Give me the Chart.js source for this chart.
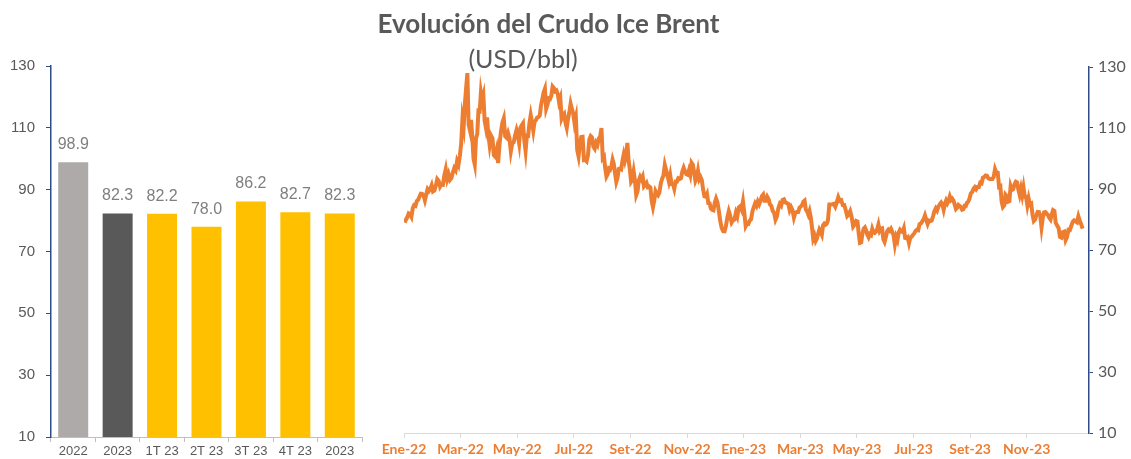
<!DOCTYPE html>
<html lang="es">
<head>
<meta charset="utf-8">
<title>Evolución del Crudo Ice Brent</title>
<script src="https://cdn.jsdelivr.net/npm/chart.js@4.4.1/dist/chart.umd.min.js"></script>
<style>
  body { margin: 0; background: #fff; }
  .wrap { position: relative; width: 1131px; height: 459px; overflow: hidden; background: #fff; }
  .title { position: absolute; left: 0; width: 1097px; top: 8px; text-align: center; font: bold 26px Lato, sans-serif; color: #595959; line-height: 30px; }
  .subtitle { position: absolute; left: 0; width: 1046px; top: 44px; text-align: center; font: 25px Lato, sans-serif; color: #595959; line-height: 28px; }
  #barChart { position: absolute; left: 0; top: 0; }
  #brentChart { position: absolute; left: 370px; top: 0; }
</style>
</head>
<body>
<div class="wrap">
  <canvas id="barChart" width="370" height="459"></canvas>
  <canvas id="brentChart" width="761" height="459"></canvas>
  <div class="title">Evolución del Crudo Ice Brent</div>
  <div class="subtitle">(USD/bbl)</div>
</div>
<script>
// promedios anuales y trimestrales
const barLabels = ['2022', '2023', '1T 23', '2T 23', '3T 23', '4T 23', '2023'];
const barValues = [98.9, 82.3, 82.2, 78.0, 86.2, 82.7, 82.3];
const barColors = ['#AEAAAA', '#595959', '#FFC000', '#FFC000', '#FFC000', '#FFC000', '#FFC000'];

const xTickLabels = ['Ene-22', 'Mar-22', 'May-22', 'Jul-22', 'Set-22', 'Nov-22',
                     'Ene-23', 'Mar-23', 'May-23', 'Jul-23', 'Set-23', 'Nov-23'];

//! Brent diario, un array por mes
const brent2022 = [
  [78.98, 80.00, 80.80, 81.99, 81.75, 80.87, 83.72, 84.67, 84.47, 86.06, 86.48, 87.51, 88.44, 88.38, 87.89, 86.27, 88.20, 89.96, 89.34, 90.03, 91.21],
  [89.16, 89.47, 91.11, 93.27, 92.69, 90.78, 91.55, 91.41, 94.44, 96.48, 93.28, 94.81, 92.97, 93.54, 95.39, 96.84, 96.12, 99.08, 97.93, 100.99],
  [104.97, 112.93, 110.46, 118.11, 123.21, 127.98, 111.14, 109.33, 112.67, 106.90, 99.91, 98.02, 106.64, 107.93, 115.62, 115.48, 121.60, 119.03, 120.65, 112.48, 110.23, 113.45, 107.91],
  [104.39, 107.53, 106.64, 101.07, 100.58, 102.78, 98.48, 104.64, 108.78, 111.70, 113.16, 107.25, 106.80, 108.33, 106.65, 102.32, 104.99, 105.32, 107.59, 109.34],
  [107.58, 104.97, 110.14, 110.90, 111.55, 105.94, 102.46, 107.51, 107.45, 111.55, 114.24, 111.93, 109.11, 112.04, 112.55, 113.42, 113.56, 114.03, 117.40, 119.43, 121.67, 122.84],
  [116.29, 117.61, 119.72, 119.51, 120.57, 123.58, 123.07, 122.01, 122.27, 121.17, 118.51, 119.81, 113.12, 114.13, 114.65, 111.74, 110.05, 113.12, 115.09, 117.98, 116.26, 114.81],
  [111.63, 113.50, 102.77, 100.69, 104.65, 107.02, 107.10, 99.49, 99.57, 99.10, 101.16, 106.27, 107.35, 106.92, 103.86, 103.20, 105.15, 104.40, 106.62, 107.14, 110.01],
  [100.03, 100.54, 96.78, 94.12, 94.92, 96.65, 96.31, 97.40, 99.60, 98.15, 95.10, 92.34, 93.65, 96.59, 96.72, 96.48, 99.22, 101.22, 99.34, 100.99, 105.09, 99.31, 96.49],
  [92.36, 93.02, 95.74, 92.83, 88.00, 89.15, 92.84, 94.00, 93.17, 94.10, 90.84, 91.35, 92.00, 90.62, 90.83, 90.46, 86.15, 84.06, 86.27, 89.32, 88.49, 87.96],
  [88.86, 91.80, 93.37, 94.42, 97.92, 96.19, 94.29, 92.45, 94.57, 91.63, 91.62, 90.03, 92.41, 92.38, 93.50, 93.26, 93.52, 95.69, 96.96, 95.77, 94.83],
  [94.65, 96.16, 94.67, 98.57, 97.92, 95.36, 92.65, 93.67, 95.99, 93.14, 93.86, 92.86, 89.78, 87.62, 87.45, 88.36, 85.41, 85.34, 83.63, 83.19, 83.03, 85.43],
  [86.88, 85.57, 82.68, 79.35, 77.17, 76.15, 76.10, 77.99, 80.68, 82.70, 81.21, 79.04, 79.80, 79.99, 82.20, 80.98, 83.92, 84.33, 83.26, 85.91]
];
const brent2023 = [
  [82.10, 77.84, 78.69, 78.57, 79.65, 80.10, 82.67, 84.03, 85.28, 84.46, 85.92, 84.98, 86.16, 87.63, 88.19, 86.13, 86.12, 87.47, 86.66, 84.90, 84.49],
  [82.84, 82.17, 79.94, 80.99, 83.69, 85.09, 84.50, 86.39, 86.61, 85.58, 85.38, 85.14, 83.00, 84.07, 83.05, 80.60, 82.21, 82.45, 82.45, 83.89],
  [84.31, 84.75, 85.83, 86.18, 83.29, 82.66, 81.59, 82.78, 80.77, 77.45, 73.69, 74.70, 72.97, 73.79, 75.32, 76.69, 75.91, 74.99, 78.12, 78.65, 78.28, 78.60, 79.77],
  [84.93, 84.94, 84.99, 85.12, 84.18, 85.61, 87.33, 86.09, 86.31, 84.76, 84.77, 83.12, 81.10, 81.66, 82.73, 80.77, 77.69, 78.37, 79.54],
  [79.31, 75.32, 72.33, 72.50, 75.30, 77.01, 77.44, 76.41, 74.98, 74.17, 75.23, 74.91, 76.96, 75.86, 75.58, 75.99, 76.84, 78.36, 76.26, 76.95, 77.07, 73.54, 72.66],
  [74.28, 76.13, 76.71, 76.29, 76.95, 75.96, 74.79, 71.84, 74.29, 73.20, 75.67, 76.61, 76.09, 75.90, 77.12, 73.96, 73.85, 74.18, 72.26, 74.03, 74.34, 74.90],
  [75.41, 76.25, 76.65, 76.52, 78.47, 78.69, 79.40, 80.11, 81.36, 79.87, 78.50, 79.63, 79.46, 79.64, 81.07, 82.74, 83.64, 82.92, 84.24, 84.99, 85.56],
  [84.91, 83.20, 85.14, 86.24, 85.34, 86.17, 87.55, 86.40, 86.81, 86.21, 84.89, 83.45, 83.91, 84.80, 84.46, 84.03, 83.21, 83.36, 84.48, 84.42, 85.49, 85.86, 86.86],
  [88.55, 89.00, 90.04, 90.60, 89.92, 90.65, 90.64, 92.06, 91.88, 93.70, 93.93, 94.43, 94.34, 93.53, 93.30, 93.27, 93.29, 93.96, 96.55, 95.38, 95.31],
  [90.71, 90.92, 85.81, 84.07, 84.58, 88.15, 87.65, 85.82, 86.00, 90.89, 89.65, 89.90, 91.50, 92.38, 92.16, 89.83, 88.07, 90.13, 87.93, 90.48, 87.45, 87.41],
  [84.63, 86.85, 84.89, 85.18, 81.61, 79.54, 80.01, 81.43, 82.52, 82.47, 81.18, 77.42, 80.61, 82.32, 82.45, 81.96, 81.42, 80.58, 79.98, 81.68, 83.10, 82.83],
  [78.88, 78.03, 77.20, 74.30, 74.05, 75.84, 76.03, 73.24, 74.26, 76.61, 76.55, 77.95, 79.23, 79.70, 79.39, 79.07, 81.07, 79.65, 78.39, 77.04]
];

// x en meses desde Ene-22, cada dia repartido dentro de su mes
const brentPoints = [];
[brent2022, brent2023].forEach((year, yi) => {
  year.forEach((month, mi) => {
    month.forEach((v, di) => {
      brentPoints.push({ x: yi * 12 + mi + (di + 0.5) / month.length, y: v });
    });
  });
});

const navy = '#2F4B8A';

//! etiquetas encima de las barras
const barValueLabels = {
  id: 'barValueLabels',
  afterDatasetsDraw(chart) {
    const ctx = chart.ctx;
    const meta = chart.getDatasetMeta(0);
    ctx.save();
    ctx.font = '16px "Liberation Sans"';
    ctx.fillStyle = '#7F7F7F';
    ctx.textAlign = 'center';
    ctx.textBaseline = 'alphabetic';
    meta.data.forEach((bar, i) => {
      ctx.fillText(barValues[i].toFixed(1), bar.x, bar.y - 13);
    });
    ctx.restore();
  }
};

new Chart(document.getElementById('barChart'), {
  type: 'bar',
  data: {
    labels: barLabels,
    datasets: [{
      data: barValues,
      backgroundColor: barColors,
      categoryPercentage: 1,
      barPercentage: 0.675
    }]
  },
  options: {
    responsive: false,
    animation: false,
    layout: { padding: { top: 66, right: 8, left: 0, bottom: 0 } },
    plugins: { legend: { display: false }, tooltip: { enabled: false } },
    scales: {
      x: {
        grid: { drawOnChartArea: false, tickLength: 5, color: '#BFBFBF' },
        border: { color: '#BFBFBF' },
        ticks: { color: '#595959', font: { family: 'Liberation Sans', size: 13 }, padding: 2, maxRotation: 0, autoSkip: false },
        afterFit: (s) => { s.height = 22; }
      },
      y: {
        min: 10,
        max: 130,
        ticks: { stepSize: 20, color: '#595959', font: { family: 'Liberation Sans', size: 15 }, padding: 11 },
        grid: { drawOnChartArea: false, tickLength: 5, color: navy },
        border: { color: navy, width: 1.5 },
        afterFit: (s) => { s.width = 51; }
      }
    }
  },
  plugins: [barValueLabels]
});

new Chart(document.getElementById('brentChart'), {
  type: 'line',
  data: {
    datasets: [{
      data: brentPoints,
      borderColor: '#ED7D31',
      borderWidth: 4,
      pointRadius: 0,
      tension: 0
    }]
  },
  options: {
    responsive: false,
    animation: false,
    layout: { padding: { left: 34, top: 67, right: 0, bottom: 0 } },
    plugins: { legend: { display: false }, tooltip: { enabled: false } },
    scales: {
      x: {
        type: 'linear',
        min: 0,
        max: 24.2,
        afterBuildTicks: (s) => { s.ticks = xTickLabels.map((l, i) => ({ value: i * 2 })); },
        ticks: {
          callback: (v) => xTickLabels[v / 2],
          color: '#ED7D31',
          font: { family: 'Lato', size: 14, weight: 'bold' },
          padding: 3,
          maxRotation: 0,
          autoSkip: false
        },
        grid: { drawOnChartArea: false, tickLength: 5, color: '#D9D9D9' },
        border: { color: '#D9D9D9' },
        afterFit: (s) => { s.height = 26; }
      },
      y: {
        position: 'right',
        min: 10,
        max: 130,
        ticks: { stepSize: 20, color: '#595959', font: { family: 'Lato', size: 16 }, padding: 5 },
        grid: { drawOnChartArea: false, tickLength: 4, color: navy },
        border: { color: navy, width: 1.5 },
        afterFit: (s) => { s.width = 42; }
      }
    }
  }
});
</script>
</body>
</html>
